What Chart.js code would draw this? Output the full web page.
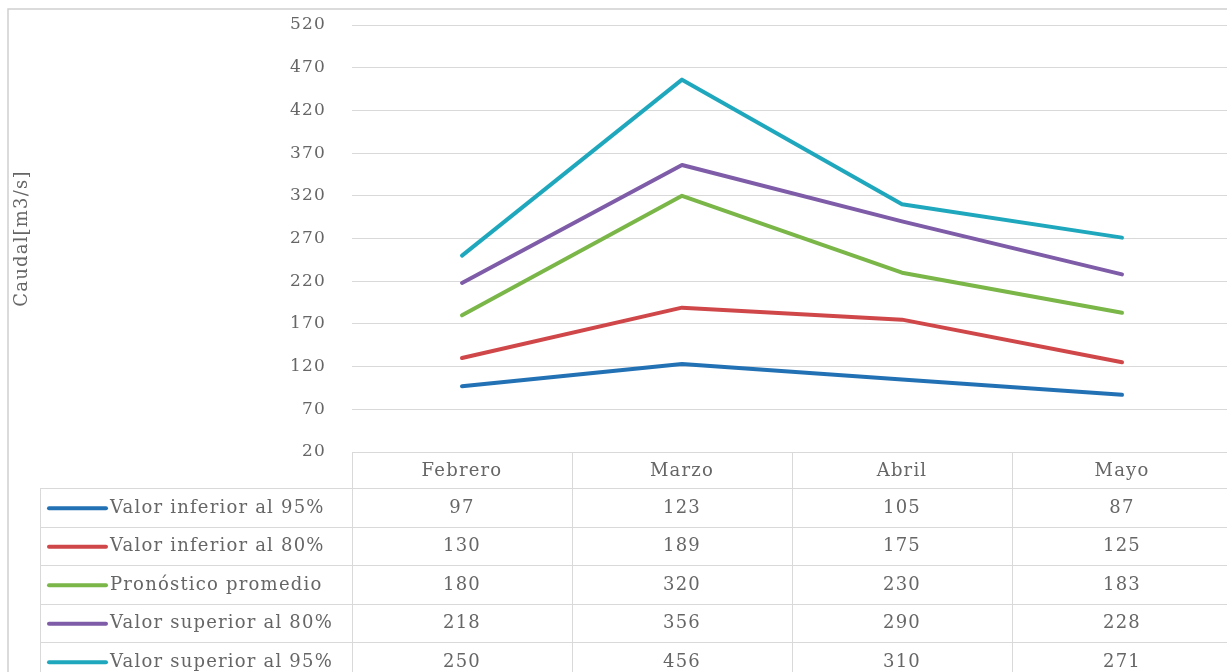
<!DOCTYPE html>
<html>
<head>
<meta charset="utf-8">
<script src="https://cdn.jsdelivr.net/npm/chart.js@4"></script>
<style>
  html, body { margin: 0; padding: 0; background: #fff; overflow: hidden; }
  #wrap { position: relative; width: 1232px; height: 672px; }
</style>
</head>
<body>
<div id="wrap"><canvas id="caudalChart"></canvas></div>
<script>
// Datos del pronóstico de caudal
const meses = ['Febrero', 'Marzo', 'Abril', 'Mayo'];
const inferior95 = [97, 123, 105, 87];
const inferior80 = [130, 189, 175, 125];
const promedio = [180, 320, 230, 183];
const superior80 = [218, 356, 290, 228];
const superior95 = [250, 456, 310, 271];
const nombresSeries = ['Valor inferior al 95%', 'Valor inferior al 80%', 'Pronóstico promedio', 'Valor superior al 80%', 'Valor superior al 95%'];
const ejeY = { min: 20, max: 520, paso: 50 };
const tituloY = 'Caudal[m3/s]';

const colores = ['#2371B5', '#D0474A', '#7AB648', '#7E5CA8', '#1FA8BD'];
const valores = [inferior95, inferior80, promedio, superior80, superior95];

const fuente = 'DejaVu Serif';
const textoColor = '#666666';
const lineaColor = '#d9d9d9';
const espaciado = '1.2px';

// Tabla de datos debajo del gráfico (estilo Excel)
const tablaPlugin = {
    id: 'tablaDatos',
    beforeDraw(chart) {
        const ctx = chart.ctx;
        ctx.save();
        ctx.strokeStyle = '#d0d0d0';
        ctx.lineWidth = 1.5;
        ctx.beginPath();
        ctx.moveTo(8, chart.height);
        ctx.lineTo(8, 9);
        ctx.lineTo(chart.width, 9);
        ctx.stroke();
        ctx.restore();
        ctx.letterSpacing = espaciado;
    },
    afterDraw(chart) {
        const ctx = chart.ctx;
        const xs = chart.scales.x;
        const area = chart.chartArea;
        const colW = xs.width / meses.length;
        const top = area.bottom;
        const headerH = 36;
        const rowH = 38.5;
        const legLeft = 40;

        ctx.save();
        ctx.letterSpacing = espaciado;
        ctx.strokeStyle = lineaColor;
        ctx.lineWidth = 1;

        // líneas horizontales
        ctx.beginPath();
        ctx.moveTo(area.left, top + 0.5);
        ctx.lineTo(area.right, top + 0.5);
        for (let r = 0; r <= valores.length; r++) {
            const y = Math.round(top + headerH + r * rowH) + 0.5;
            ctx.moveTo(legLeft, y);
            ctx.lineTo(area.right, y);
        }
        // líneas verticales
        for (let c = 0; c <= meses.length; c++) {
            const x = Math.round(area.left + c * colW) + 0.5;
            ctx.moveTo(x, top);
            ctx.lineTo(x, chart.height);
        }
        ctx.moveTo(legLeft + 0.5, top + headerH);
        ctx.lineTo(legLeft + 0.5, chart.height);
        ctx.stroke();

        ctx.font = '18px "' + fuente + '"';
        ctx.fillStyle = textoColor;
        ctx.textBaseline = 'middle';
        ctx.textAlign = 'center';
        meses.forEach((m, i) => {
            ctx.fillText(m, xs.getPixelForValue(i), top + headerH / 2 + 1);
        });

        valores.forEach((serie, r) => {
            const yc = top + headerH + r * rowH + rowH / 2 + 1;
            ctx.strokeStyle = colores[r];
            ctx.lineWidth = 4;
            ctx.lineCap = 'round';
            ctx.beginPath();
            ctx.moveTo(49, yc);
            ctx.lineTo(106, yc);
            ctx.stroke();

            ctx.textAlign = 'left';
            ctx.fillText(nombresSeries[r], 110, yc);
            ctx.textAlign = 'center';
            serie.forEach((v, i) => {
                ctx.fillText(String(v), xs.getPixelForValue(i), yc);
            });
        });
        ctx.restore();
    }
};

const ctx = document.getElementById('caudalChart').getContext('2d');

new Chart(ctx, {
    type: 'line',
    data: {
        labels: meses,
        datasets: valores.map((serie, i) => ({
            label: nombresSeries[i],
            data: serie,
            borderColor: colores[i],
            backgroundColor: colores[i],
            borderWidth: 4,
            borderCapStyle: 'round',
            borderJoinStyle: 'round',
            pointRadius: 0,
            tension: 0,
            fill: false
        }))
    },
    options: {
        responsive: true,
        maintainAspectRatio: false,
        animation: false,
        layout: {
            padding: { top: 25, bottom: 220, left: 0, right: 0 }
        },
        plugins: {
            legend: { display: false },
            title: { display: false },
            tooltip: { enabled: false }
        },
        scales: {
            x: {
                display: false,
                offset: true
            },
            y: {
                min: ejeY.min,
                max: ejeY.max,
                afterFit: scale => { scale.width = 352; },
                ticks: {
                    stepSize: ejeY.paso,
                    padding: 1,
                    color: textoColor,
                    font: { family: fuente, size: 17 }
                },
                grid: {
                    color: lineaColor,
                    lineWidth: 1,
                    drawTicks: true,
                    tickLength: 25,
                    tickColor: 'rgba(0,0,0,0)'
                },
                border: { display: false },
                title: {
                    display: true,
                    text: tituloY,
                    color: textoColor,
                    font: { family: fuente, size: 18 },
                    padding: { top: 12, bottom: 0 }
                }
            }
        }
    },
    plugins: [tablaPlugin]
});
</script>
</body>
</html>
